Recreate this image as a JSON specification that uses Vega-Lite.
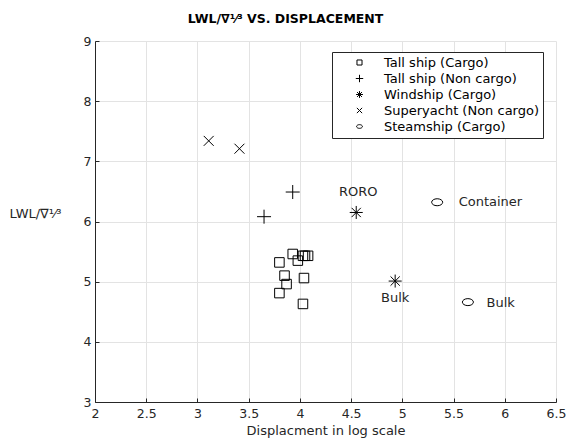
{
  "$schema": "https://vega.github.io/schema/vega-lite/v6.json",
  "autosize": {"type": "none"},
  "padding": {"left": 95, "top": 41, "right": 12, "bottom": 42},
  "width": 461,
  "height": 361,
  "background": "white",
  "config": {
    "font": "DejaVu Sans",
    "view": {"stroke": null},
    "axis": {
      "gridColor": "#e3e3e3",
      "gridWidth": 1,
      "domainColor": "#262626",
      "domainWidth": 1,
      "tickColor": "#262626",
      "tickSize": -4,
      "labelFont": "DejaVu Sans",
      "labelFontSize": 12.5,
      "labelColor": "#262626",
      "titleFont": "DejaVu Sans",
      "titleFontSize": 13,
      "titleFontWeight": "normal",
      "titleColor": "#262626"
    }
  },
  "title": {
    "text": "LWL/∇¹⁄³ VS. DISPLACEMENT",
    "font": "DejaVu Sans",
    "fontSize": 12.5,
    "fontWeight": "bold",
    "color": "#000000",
    "anchor": "middle",
    "dx": -40,
    "offset": 10
  },
  "datasets": {
    "ships": [
      {"type": "Tall ship (Cargo)", "disp": 3.93, "ratio": 5.46},
      {"type": "Tall ship (Cargo)", "disp": 3.98, "ratio": 5.35},
      {"type": "Tall ship (Cargo)", "disp": 3.80, "ratio": 5.32},
      {"type": "Tall ship (Cargo)", "disp": 4.03, "ratio": 5.43},
      {"type": "Tall ship (Cargo)", "disp": 4.05, "ratio": 5.43},
      {"type": "Tall ship (Cargo)", "disp": 4.08, "ratio": 5.43},
      {"type": "Tall ship (Cargo)", "disp": 3.85, "ratio": 5.10},
      {"type": "Tall ship (Cargo)", "disp": 4.04, "ratio": 5.06},
      {"type": "Tall ship (Cargo)", "disp": 3.87, "ratio": 4.96},
      {"type": "Tall ship (Cargo)", "disp": 3.80, "ratio": 4.81},
      {"type": "Tall ship (Cargo)", "disp": 4.03, "ratio": 4.63},
      {"type": "Tall ship (Non cargo)", "disp": 3.93, "ratio": 6.49},
      {"type": "Tall ship (Non cargo)", "disp": 3.65, "ratio": 6.08},
      {"type": "Windship (Cargo)", "disp": 4.55, "ratio": 6.15},
      {"type": "Windship (Cargo)", "disp": 4.93, "ratio": 5.01},
      {"type": "Superyacht (Non cargo)", "disp": 3.11, "ratio": 7.34},
      {"type": "Superyacht (Non cargo)", "disp": 3.41, "ratio": 7.21},
      {"type": "Steamship (Cargo)", "disp": 5.34, "ratio": 6.32},
      {"type": "Steamship (Cargo)", "disp": 5.64, "ratio": 4.66}
    ],
    "labels": [
      {"label": "RORO", "disp": 4.57, "ratio": 6.49},
      {"label": "Container", "disp": 5.86, "ratio": 6.32},
      {"label": "Bulk", "disp": 4.93, "ratio": 4.73},
      {"label": "Bulk", "disp": 5.96, "ratio": 4.65}
    ]
  },
  "layer": [
    {
      "data": {"name": "ships"},
      "mark": {"type": "point", "filled": false, "stroke": "black", "strokeWidth": 1, "size": 196, "opacity": 1},
      "encoding": {
        "x": {
          "field": "disp", "type": "quantitative",
          "scale": {"domain": [2, 6.5], "nice": false, "zero": false},
          "axis": {"values": [2, 2.5, 3, 3.5, 4, 4.5, 5, 5.5, 6, 6.5], "title": "Displacment in log scale", "labelPadding": 9, "titlePadding": 5, "labelFlush": false, "format": "~g"}
        },
        "y": {
          "field": "ratio", "type": "quantitative",
          "scale": {"domain": [3, 9], "nice": false, "zero": false},
          "axis": {"values": [3, 4, 5, 6, 7, 8, 9], "format": "d", "title": "LWL/∇¹⁄³", "titleAngle": 0, "titleAlign": "center", "titleBaseline": "middle", "titleX": -60, "titleY": 172, "labelPadding": 8, "labelFlush": false}
        },
        "shape": {
          "field": "type", "type": "nominal",
          "scale": {
            "domain": ["Tall ship (Cargo)", "Tall ship (Non cargo)", "Windship (Cargo)", "Superyacht (Non cargo)", "Steamship (Cargo)"],
            "range": [
              "M-0.68,-0.68H0.68V0.68H-0.68Z",
              "M-1,0H1M0,-1V1",
              "M-0.93,0H0.93M0,-0.93V0.93M-0.66,-0.66L0.66,0.66M-0.66,0.66L0.66,-0.66",
              "M-0.71,-0.71L0.71,0.71M-0.71,0.71L0.71,-0.71",
              "M-0.79,0A0.79,0.5,0,1,0,0.79,0A0.79,0.5,0,1,0,-0.79,0Z"
            ]
          },
          "legend": {
            "title": null,
            "orient": "none",
            "legendX": 237,
            "legendY": 11,
            "strokeColor": "#262626",
            "fillColor": "white",
            "padding": 4,
            "symbolSize": 55,
            "symbolStrokeColor": "black",
            "symbolStrokeWidth": 1,
            "symbolFillColor": "transparent",
            "symbolOffset": 17,
            "labelOffset": 18,
            "labelFont": "DejaVu Sans",
            "labelFontSize": 13,
            "labelColor": "#000000",
            "rowPadding": 2,
            "labelLimit": 300
          }
        }
      }
    },
    {
      "data": {"name": "labels"},
      "mark": {"type": "text", "font": "DejaVu Sans", "fontSize": 13, "color": "#262626", "align": "center", "baseline": "middle"},
      "encoding": {
        "x": {"field": "disp", "type": "quantitative"},
        "y": {"field": "ratio", "type": "quantitative"},
        "text": {"field": "label"}
      }
    }
  ]
}
